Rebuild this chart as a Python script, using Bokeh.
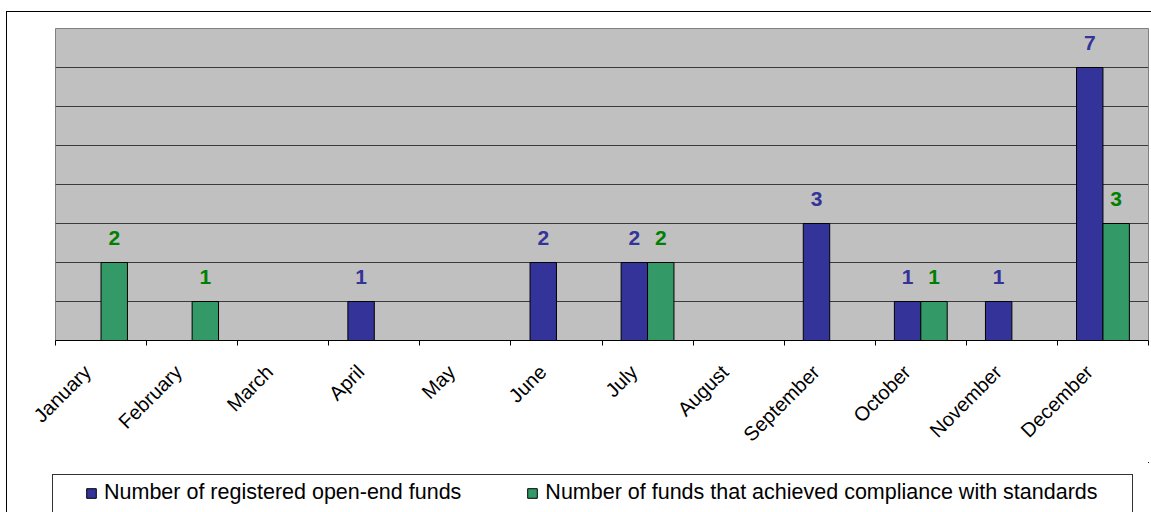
import math
import numpy as np
from bokeh.plotting import figure
from bokeh.layouts import column
from bokeh.models import (FixedTicker, CustomJSTickFormatter, Legend, LegendItem,
                          ColumnDataSource, Range1d, InlineStyleSheet)
from bokeh.core.properties import value
from bokeh.embed import file_html
from bokeh.resources import INLINE

months = ["January", "February", "March", "April", "May", "June", "July",
          "August", "September", "October", "November", "December"]
registered = [0, 0, 0, 1, 0, 2, 2, 0, 3, 1, 1, 7]
compliant = [2, 1, 0, 0, 0, 0, 2, 0, 0, 1, 0, 3]
series_names = ["Number of registered open-end funds",
                "Number of funds that achieved compliance with standards"]
y_max = 8
grid_values = [1, 2, 3, 4, 5, 6, 7]

BLUE = "#333399"
GREEN = "#339966"
BLUE_TXT = "#333399"
GREEN_TXT = "#008000"
FONT = "Liberation Sans"

bar_w = 0.29
off = 0.145
centers = np.arange(len(months)) + 0.5


def make_src(vals, shift):
    idx = [i for i, v in enumerate(vals) if v > 0]
    return ColumnDataSource(dict(
        x=[float(centers[i] + shift) for i in idx],
        top=[vals[i] for i in idx],
        label=[str(vals[i]) for i in idx],
    ))


src_reg = make_src(registered, -off)
src_comp = make_src(compliant, off)

MAIN_H = 462
p = figure(width=1151, height=MAIN_H, x_range=Range1d(0, len(months)), y_range=Range1d(0, y_max),
           output_backend="svg", toolbar_location=None,
           min_border_left=55, min_border_right=3, min_border_top=28, min_border_bottom=MAIN_H - 340)
p.background_fill_color = "#c0c0c0"
p.border_fill_color = "white"
p.outline_line_color = "#808080"
p.outline_line_width = 1

p.yaxis.visible = False
p.xgrid.visible = False
p.ygrid.ticker = FixedTicker(ticks=grid_values)
p.ygrid.grid_line_color = "#3a3a3a"
p.ygrid.grid_line_width = 1

ax = p.xaxis[0]
ax.ticker = FixedTicker(ticks=[float(c - 0.15) for c in centers],
                        minor_ticks=list(range(len(months) + 1)))
ax.formatter = CustomJSTickFormatter(args=dict(labels=months),
                                     code="return labels[Math.floor(tick)];")
ax.major_tick_line_color = None
ax.major_tick_out = 5
ax.major_tick_in = 0
ax.minor_tick_line_color = "black"
ax.minor_tick_out = 5
ax.minor_tick_in = 0
ax.axis_line_color = "black"
ax.major_label_orientation = math.pi / 4
ax.major_label_text_font = FONT
ax.major_label_text_font_size = "20px"
ax.major_label_text_color = "black"
ax.major_label_standoff = 23

r1 = p.vbar(x="x", top="top", width=bar_w, source=src_reg, fill_color=BLUE, line_color="black", line_width=1)
r2 = p.vbar(x="x", top="top", width=bar_w, source=src_comp, fill_color=GREEN, line_color="black", line_width=1)

for src, col in ((src_reg, BLUE_TXT), (src_comp, GREEN_TXT)):
    p.text(x="x", y="top", text="label", source=src, text_font=value(FONT), text_font_style="bold",
           text_font_size="21px", text_color=col, text_align="center", text_baseline="alphabetic",
           y_offset=-25)

p.stylesheets = [InlineStyleSheet(css="""
:host { position: relative; }
:host::before { content: ""; position: absolute; left: 6px; top: 11px; right: 0px; bottom: 0px;
  border-top: 1.5px solid #000; border-left: 1.5px solid #000; pointer-events: none; z-index: 10; }
""")]

# legend strip (its ranges lie away from the data, so only the legend shows)
LEG_H = 512 - MAIN_H
lp = figure(width=1151, height=LEG_H, x_range=Range1d(-20, -19), y_range=Range1d(-20, -19),
            output_backend="svg", toolbar_location=None, x_axis_type=None, y_axis_type=None,
            min_border=0)
lp.outline_line_color = None
lp.background_fill_color = "white"
lp.border_fill_color = "white"
d1 = lp.vbar(x="x", top="top", width=bar_w, source=src_reg, fill_color=BLUE, line_color="black", line_width=1)
d2 = lp.vbar(x="x", top="top", width=bar_w, source=src_comp, fill_color=GREEN, line_color="black", line_width=1)

legend = Legend(items=[LegendItem(label=series_names[0], renderers=[d1]),
                       LegendItem(label=series_names[1], renderers=[d2])],
                orientation="horizontal", location=(30, 7),
                border_line_alpha=0, background_fill_alpha=0, padding=0, margin=0,
                spacing=65, label_standoff=7, glyph_width=12, glyph_height=12, label_height=24,
                label_text_font=FONT, label_text_font_size="21.5px", label_text_color="black")
lp.add_layout(legend, "center")

lp.stylesheets = [InlineStyleSheet(css="""
:host { position: relative; }
:host::before { content: ""; position: absolute; left: 6px; top: 0px; bottom: 0px; width: 0px;
  border-left: 1.5px solid #000; pointer-events: none; z-index: 10; }
:host::after { content: ""; position: absolute; left: 52px; top: 12px; width: 1081px; bottom: 0px;
  border-top: 1px solid #333; border-left: 1px solid #333; border-right: 1px solid #333;
  pointer-events: none; z-index: 10; }
""")]

layout = column(p, lp, spacing=0)
open("out.html", "w").write(file_html(layout, INLINE))
